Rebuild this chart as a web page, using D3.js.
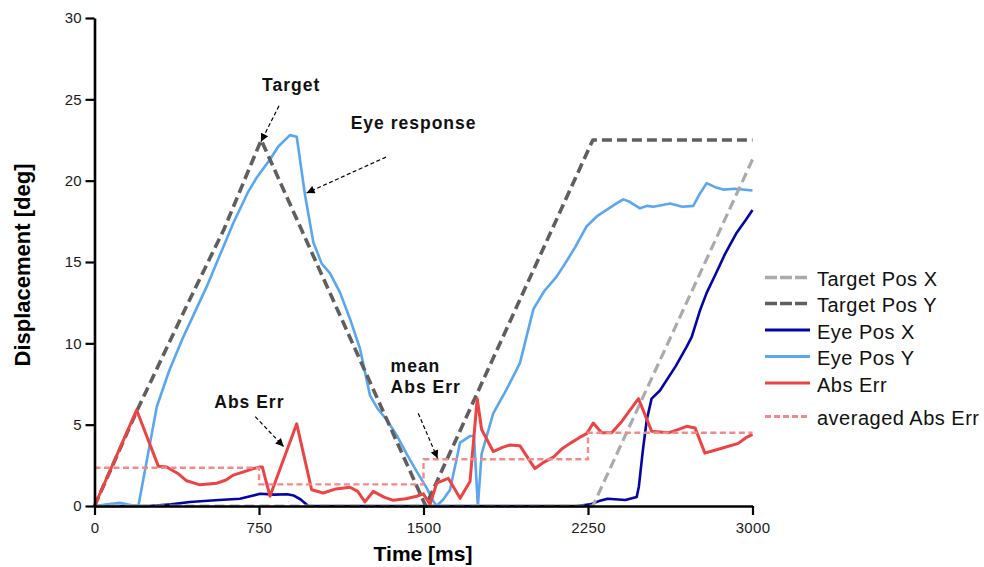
<!DOCTYPE html>
<html>
<head>
<meta charset="utf-8">
<script src="https://cdn.jsdelivr.net/npm/d3@7/dist/d3.min.js"></script>
<style>
  html, body { margin: 0; padding: 0; background: #fff; }
  svg { display: block; font-family: "Liberation Sans", Arial, Helvetica, sans-serif; }
</style>
</head>
<body>
<svg id="chart" width="984" height="567"></svg>
<script>
// ---- data: [time ms, displacement deg] ----
const xTicks = [0, 750, 1500, 2250, 3000];
const yTicks = [0, 5, 10, 15, 20, 25, 30];

const targetPosX = [[0, 0], [2272, 0], [3000, 21.3]];

const targetPosY = [[0, 0], [195, 5.9], [420, 12.3], [590, 17.0], [760, 22.5],
  [1510, 0], [2272, 22.5], [3000, 22.5]];

const eyePosX = [[0, 0], [250, 0], [350, 0.1], [435, 0.25], [550, 0.35], [663, 0.45],
  [710, 0.6], [755, 0.75], [820, 0.7], [880, 0.72], [907, 0.65], [940, 0.4], [975, 0],
  [2200, 0], [2260, 0.1], [2300, 0.3], [2340, 0.45], [2420, 0.37], [2472, 0.55],
  [2482, 1.2], [2500, 3.4], [2518, 5.3], [2540, 6.6], [2578, 7.1], [2650, 8.6],
  [2700, 9.8], [2723, 10.4], [2760, 12.0], [2791, 13.1], [2830, 14.2], [2875, 15.5],
  [2928, 16.8], [2970, 17.6], [3000, 18.2]];

const eyePosY = [[0, 0], [60, 0.1], [115, 0.2], [170, 0.05], [200, 0], [284, 6.1],
  [340, 8.3], [405, 10.4], [512, 13.5], [633, 17.4], [700, 19.3], [740, 20.2],
  [800, 21.3], [838, 22.1], [891, 22.8], [922, 22.7], [960, 19.1], [998, 16.2],
  [1036, 14.9], [1074, 14.3], [1120, 13.1], [1165, 11.5], [1210, 9.7], [1256, 6.8],
  [1290, 6.0], [1332, 5.3], [1380, 4.3], [1423, 3.2], [1470, 2.1], [1515, 1.1],
  [1545, 0.3], [1560, 0], [1590, 0.4], [1621, 1.0], [1667, 3.9], [1712, 4.3],
  [1730, 4.3], [1748, 0], [1765, 3.2], [1818, 5.7], [1880, 7.2], [1940, 8.8],
  [2001, 12.1], [2050, 13.2], [2107, 14.1], [2150, 15.0], [2191, 15.9], [2244, 17.2],
  [2290, 17.8], [2335, 18.2], [2380, 18.6], [2411, 18.85], [2440, 18.7], [2487, 18.3],
  [2520, 18.45], [2548, 18.4], [2590, 18.5], [2624, 18.6], [2680, 18.4], [2730, 18.45],
  [2760, 19.2], [2791, 19.85], [2830, 19.6], [2867, 19.45], [2920, 19.5], [3000, 19.4]];

const absErr = [[0, 0], [192, 5.9], [291, 2.45], [329, 2.4], [380, 2.0], [420, 1.55],
  [481, 1.3], [520, 1.35], [557, 1.4], [600, 1.6], [633, 1.9], [680, 2.1], [724, 2.3],
  [755, 2.4], [765, 2.4], [800, 0.6], [922, 5.05], [990, 1.0], [1043, 0.8], [1100, 1.05],
  [1165, 1.15], [1200, 0.9], [1233, 0.25], [1271, 0.9], [1320, 0.55], [1362, 0.35],
  [1420, 0.45], [1469, 0.6], [1499, 0.75], [1530, 0.1], [1560, 1.4], [1613, 1.7],
  [1667, 0.47], [1712, 1.5], [1745, 6.6], [1765, 4.7], [1818, 3.35], [1860, 3.6],
  [1894, 3.75], [1940, 3.7], [2008, 2.3], [2050, 2.7], [2092, 3.0], [2130, 3.5],
  [2168, 3.85], [2210, 4.2], [2244, 4.45], [2274, 5.1], [2312, 4.5], [2358, 4.5],
  [2404, 5.2], [2480, 6.6], [2540, 4.6], [2616, 4.5], [2660, 4.7], [2700, 4.9],
  [2738, 4.8], [2783, 3.25], [2820, 3.4], [2860, 3.55], [2935, 3.85], [2970, 4.2],
  [3000, 4.4]];

// averaged error per 750 ms block
const blockEdges = [0, 750, 1500, 2250, 3000];
const avgAbsErr = [2.35, 1.33, 2.87, 4.5];

const legendLabels = ["Target Pos X", "Target Pos Y", "Eye Pos X", "Eye Pos Y", "Abs Err", "averaged Abs Err"];

// ---- layout ----
const svg = d3.select("#chart");
const x = d3.scaleLinear().domain([0, 3000]).range([94.5, 752.5]);
const y = d3.scaleLinear().domain([0, 30]).range([506, 18]);
const line = d3.line().x(d => x(d[0])).y(d => y(d[1]));
const stepLine = d3.line().curve(d3.curveStepAfter).x(d => x(d[0])).y(d => y(d[1]));

const avgSteps = avgAbsErr.map((v, i) => [blockEdges[i], v]);
avgSteps.push([blockEdges[blockEdges.length - 1], avgAbsErr[avgAbsErr.length - 1]]);

const styles = {
  targetX: { stroke: "#ababab", width: 3.2, dash: "10,5" },
  targetY: { stroke: "#5f5f5f", width: 3.6, dash: "10,5" },
  eyeX:    { stroke: "#0505a5", width: 2.6, dash: null },
  eyeY:    { stroke: "#5aa6ef", width: 2.6, dash: null },
  err:     { stroke: "#ec4444", width: 3.0, dash: null },
  avg:     { stroke: "#f28a8a", width: 2.4, dash: "6,3.5" }
};

const plot = svg.append("g");
function drawPath(data, st, gen) {
  plot.append("path")
    .datum(data)
    .attr("d", gen || line)
    .attr("fill", "none")
    .attr("stroke", st.stroke)
    .attr("stroke-width", st.width)
    .attr("stroke-linejoin", "round")
    .attr("stroke-dasharray", st.dash);
}
drawPath(eyePosX, styles.eyeX);
drawPath(eyePosY, styles.eyeY);
drawPath(targetPosX, styles.targetX);
drawPath(targetPosY, styles.targetY);
drawPath(absErr, styles.err);
drawPath(avgSteps, styles.avg, stepLine);

// ---- axes ----
const xAxis = d3.axisBottom(x).tickValues(xTicks).tickFormat(d3.format("d"))
  .tickSize(9).tickSizeOuter(0).tickPadding(7);
const yAxis = d3.axisLeft(y).tickValues(yTicks).tickFormat(d3.format("d"))
  .tickSize(9).tickSizeOuter(0).tickPadding(3.5);

const gx = svg.append("g").attr("transform", "translate(0,506)").call(xAxis);
const gy = svg.append("g").attr("transform", "translate(94.5,0)").call(yAxis);
[gx, gy].forEach(g => {
  g.select(".domain").attr("stroke", "#000").attr("stroke-width", 2.6);
  g.selectAll(".tick line").attr("stroke", "#000").attr("stroke-width", 2.2);
  g.selectAll(".tick text")
    .attr("fill", "#1a1a1a")
    .style("font-size", "15px")
    .style("letter-spacing", "0.3px")
    .style("font-family", "'Liberation Sans', Arial, sans-serif");
});

svg.append("text")
  .attr("x", 423).attr("y", 561)
  .attr("text-anchor", "middle")
  .style("font-size", "21px").style("font-weight", "bold")
  .text("Time [ms]");

svg.append("text")
  .attr("transform", "translate(30,265) rotate(-90)")
  .attr("text-anchor", "middle")
  .style("font-size", "22px").style("font-weight", "bold")
  .text("Displacement [deg]");

// ---- legend ----
const legendStyles = [styles.targetX, styles.targetY, styles.eyeX, styles.eyeY, styles.err, styles.avg];
const legendRowY = [277.5, 303.5, 330, 356.5, 383, 416.5];
const legend = svg.append("g");
legendLabels.forEach((lab, i) => {
  const st = legendStyles[i];
  const dash = i < 2 ? "12,3" : (i === 5 ? "6,3" : null);
  legend.append("line")
    .attr("x1", 765).attr("x2", i < 2 ? 807 : 810)
    .attr("y1", legendRowY[i]).attr("y2", legendRowY[i])
    .attr("stroke", st.stroke)
    .attr("stroke-width", i < 2 ? 3.4 : 3)
    .attr("stroke-dasharray", dash);
  legend.append("text")
    .attr("x", 817).attr("y", legendRowY[i] + 8.5)
    .attr("fill", "#111")
    .style("font-size", "20px")
    .style("letter-spacing", "0.5px")
    .text(lab);
});

// ---- annotations (positions in data units) ----
svg.append("defs").append("marker")
  .attr("id", "arrowhead")
  .attr("viewBox", "0 0 10 10")
  .attr("refX", 10).attr("refY", 5)
  .attr("markerWidth", 10).attr("markerHeight", 8)
  .attr("markerUnits", "userSpaceOnUse")
  .attr("orient", "auto")
  .append("path")
  .attr("d", "M0,0 L10,5 L0,10 Z")
  .attr("fill", "#000");

const notes = [
  { lines: ["Target"], at: [764, 25.5], from: [841, 24.6], to: [759, 22.4] },
  { lines: ["Eye response"], at: [1168, 23.15], from: [1329, 21.45], to: [967, 19.24] },
  { lines: ["Abs Err"], at: [546, 6.0], from: [733, 5.49], to: [862, 3.66] },
  { lines: ["mean", "Abs Err"], at: [1350, 8.26], from: [1476, 5.70], to: [1564, 2.93] }
];
const ann = svg.append("g");
notes.forEach(n => {
  n.lines.forEach((t, k) => {
    ann.append("text")
      .attr("x", x(n.at[0])).attr("y", y(n.at[1]) + k * 21.6)
      .attr("fill", "#111")
      .style("font-size", "17.5px").style("font-weight", "bold")
      .style("letter-spacing", "1px")
      .text(t);
  });
  ann.append("line")
    .attr("x1", x(n.from[0])).attr("y1", y(n.from[1]))
    .attr("x2", x(n.to[0])).attr("y2", y(n.to[1]))
    .attr("stroke", "#000").attr("stroke-width", 1.2)
    .attr("stroke-dasharray", "4,2.5")
    .attr("marker-end", "url(#arrowhead)");
});
</script>
</body>
</html>
